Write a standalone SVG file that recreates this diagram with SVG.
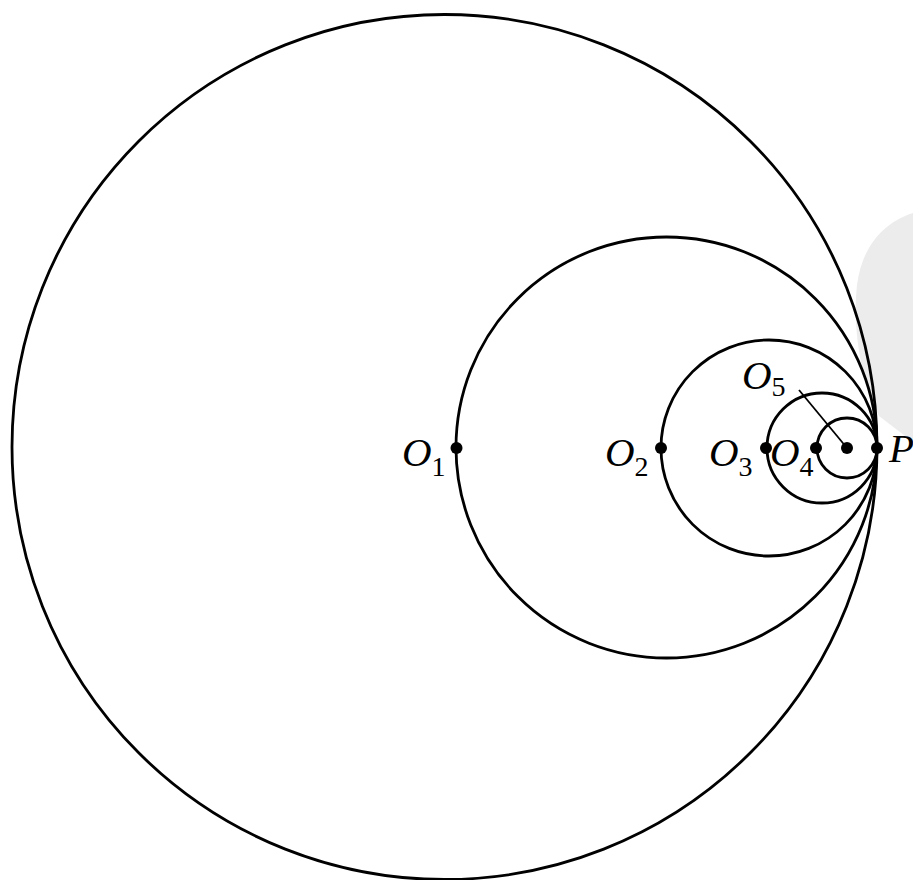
<svg xmlns="http://www.w3.org/2000/svg" width="913" height="880" viewBox="0 0 913 880">
<style>
.c{fill:none;stroke:#000;stroke-width:2.8}
.d{fill:#000}
.l{font-family:"Liberation Serif","Times New Roman",serif;font-style:italic;font-size:41px;fill:#000}
.s{font-family:"Liberation Serif","Times New Roman",serif;font-size:28px;font-style:normal}
</style>
<rect width="913" height="880" fill="#fff"/>
<path d="M913,213 C885,222 862,245 857,285 C852,330 862,385 879,416 L913,442 Z" fill="#ececec"/>
<g id="connectors">
<line x1="799" y1="390" x2="847" y2="448" stroke="#000" stroke-width="1.8"/>
</g>
<g id="circle1"><circle class="c" cx="444.5" cy="447" r="432.5"/></g>
<g id="circle2"><circle class="c" cx="666.5" cy="447.5" r="210.5"/></g>
<g id="circle3"><circle class="c" cx="769" cy="448" r="108"/></g>
<g id="circle4"><circle class="c" cx="822" cy="448" r="55"/></g>
<g id="circle5"><circle class="c" cx="847" cy="448" r="30"/></g>
<g id="O1"><circle class="d" cx="456.5" cy="448" r="6"/><text class="l" x="402" y="466">O<tspan class="s" dy="10">1</tspan></text></g>
<g id="O2"><circle class="d" cx="661" cy="448" r="6"/><text class="l" x="605" y="466">O<tspan class="s" dy="10">2</tspan></text></g>
<g id="O3"><circle class="d" cx="766" cy="448" r="6"/><text class="l" x="709" y="466">O<tspan class="s" dy="10">3</tspan></text></g>
<g id="O4"><circle class="d" cx="816" cy="448" r="6"/><text class="l" x="770" y="466">O<tspan class="s" dy="10">4</tspan></text></g>
<g id="O5"><circle class="d" cx="847" cy="448" r="6"/><text class="l" x="742" y="389">O<tspan class="s" dy="7">5</tspan></text></g>
<g id="P"><circle class="d" cx="877" cy="448" r="6"/><text class="l" x="889" y="462">P</text></g>
</svg>
